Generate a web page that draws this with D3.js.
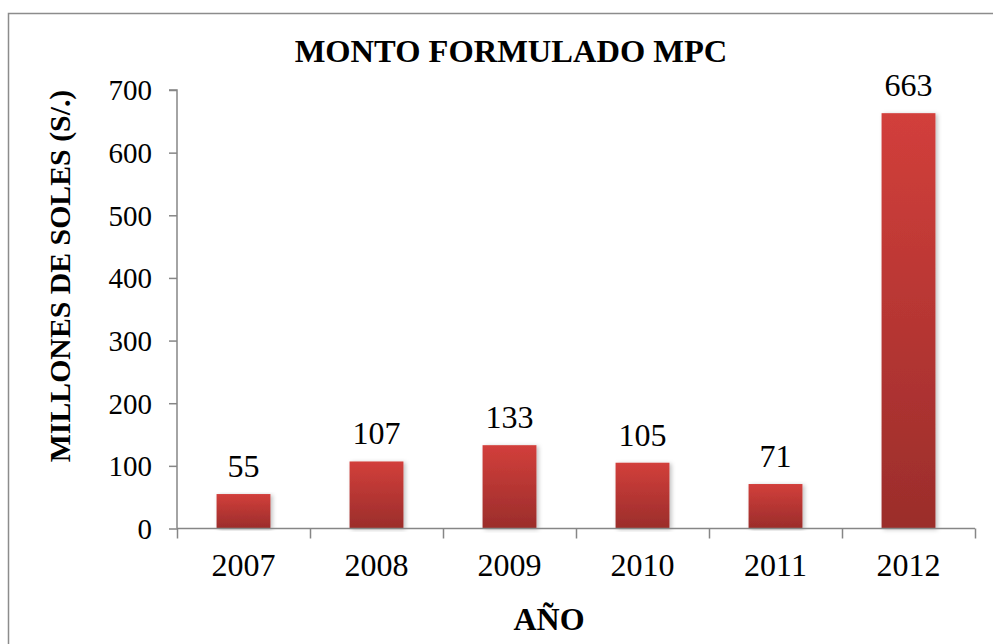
<!DOCTYPE html>
<html>
<head>
<meta charset="utf-8">
<script src="https://cdn.jsdelivr.net/npm/d3@7/dist/d3.min.js"></script>
<style>
  html, body { margin: 0; padding: 0; background: #fff; }
  svg { display: block; font-family: "Liberation Serif", "Times New Roman", serif; }
</style>
</head>
<body>
<svg id="chart" width="993" height="644"></svg>
<script>
const categories = ["2007", "2008", "2009", "2010", "2011", "2012"];
const values = [55, 107, 133, 105, 71, 663];
const yTicks = [0, 100, 200, 300, 400, 500, 600, 700];
const titleText = "MONTO FORMULADO MPC";
const yTitleText = "MILLONES DE SOLES (S/.)";
const xTitleText = "AÑO";

(function () {
const svg = d3.select("#chart");
const pLeft = 177, pRight = 975, pTop = 90, pBottom = 528.5;

// frame
svg.append("rect")
  .attr("x", 8.5).attr("y", 13.5).attr("width", 1100).attr("height", 800)
  .attr("fill", "none").attr("stroke", "#8c8c8c").attr("stroke-width", 1.5);

const defs = svg.append("defs");
const grad = defs.append("linearGradient").attr("id", "barGrad")
  .attr("x1", 0).attr("y1", 0).attr("x2", 0).attr("y2", 1);
grad.append("stop").attr("offset", "0%").attr("stop-color", "#d23f3b");
grad.append("stop").attr("offset", "100%").attr("stop-color", "#9b2d2b");
const f = defs.append("filter").attr("id", "shadow")
  .attr("x", "-20%").attr("y", "-5%").attr("width", "140%").attr("height", "110%");
f.append("feDropShadow").attr("dx", 2).attr("dy", 1).attr("stdDeviation", 2)
  .attr("flood-color", "#000").attr("flood-opacity", 0.25);

const y = d3.scaleLinear().domain([0, 700]).range([pBottom, pTop]);
const x = d3.scaleBand().domain(categories).range([pLeft, pRight])
  .paddingInner(0.595).paddingOuter(0.2975);
const xEdge = d3.scaleLinear().domain([0, categories.length]).range([pLeft, pRight]);

// bars
svg.append("g").selectAll("rect").data(values).join("rect")
  .attr("x", (d, i) => x(categories[i]))
  .attr("y", d => y(d))
  .attr("width", x.bandwidth())
  .attr("height", d => y(0) - y(d))
  .attr("fill", "url(#barGrad)")
  .attr("filter", "url(#shadow)");

// y axis
const yAxis = svg.append("g").attr("transform", `translate(${pLeft},0)`)
  .call(d3.axisLeft(y).tickValues(yTicks).tickSize(8).tickPadding(17).tickFormat(d3.format("d")));
yAxis.select(".domain").attr("stroke", "#868686").attr("stroke-width", 1.5)
  .attr("d", `M-8,${pTop}H0V${pBottom}`);
yAxis.selectAll(".tick line").attr("stroke", "#868686").attr("stroke-width", 1.5);
yAxis.selectAll(".tick text").attr("font-size", 29).attr("fill", "#000")
  .attr("font-family", "Liberation Serif, serif").attr("dy", "0.34em");

// x axis labels
const xAxis = svg.append("g").attr("transform", `translate(0,${pBottom})`)
  .call(d3.axisBottom(x).tickSize(0).tickPadding(25));
xAxis.select(".domain").remove();
xAxis.selectAll(".tick text").attr("font-size", 32).attr("fill", "#000")
  .attr("font-family", "Liberation Serif, serif");
// x axis line and boundary ticks
const xLine = svg.append("g").attr("transform", `translate(0,${pBottom})`)
  .call(d3.axisBottom(xEdge).ticks(categories.length).tickSize(10).tickFormat(""));
xLine.select(".domain").attr("stroke", "#868686").attr("stroke-width", 1.5)
  .attr("d", `M${pLeft},0H${pRight}`);
xLine.selectAll(".tick line").attr("stroke", "#868686").attr("stroke-width", 1.5);

// value labels
svg.append("g").selectAll("text").data(values).join("text")
  .attr("x", (d, i) => x(categories[i]) + x.bandwidth() / 2)
  .attr("y", d => y(d) - 17)
  .attr("text-anchor", "middle")
  .attr("font-size", 32)
  .attr("fill", "#000")
  .text(d => d);

// titles
svg.append("text").attr("x", 511).attr("y", 62).attr("text-anchor", "middle")
  .attr("font-size", 32.5).attr("font-weight", "bold").text(titleText);
svg.append("text").attr("transform", "translate(70,276) rotate(-90)")
  .attr("text-anchor", "middle").attr("font-size", 29.8).attr("font-weight", "bold").text(yTitleText);
svg.append("text").attr("x", 549).attr("y", 630).attr("text-anchor", "middle")
  .attr("font-size", 32).attr("font-weight", "bold").text(xTitleText);
})();
</script>
</body>
</html>
